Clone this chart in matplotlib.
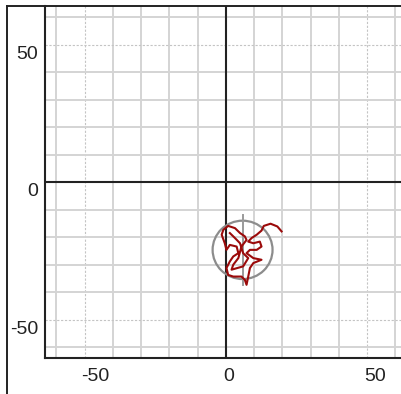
import numpy as np
import matplotlib
matplotlib.use("Agg")
import matplotlib.pyplot as plt
from matplotlib.patches import Ellipse
from matplotlib.lines import Line2D
from matplotlib.transforms import offset_copy, blended_transform_factory

plt.rcParams['font.family'] = ['Liberation Sans', 'DejaVu Sans']

# ---- data ----
path_x = [19.7, 18.2, 15.8, 13.4, 12.6, 10.9, 9.1, 7.9, 9.7, 12.0, 12.6, 10.9, 8.5, 7.3,
          9.7, 12.6, 9.7, 8.5, 7.9, 7.3, 6.7, 5.5, 2.6, 0.8, 0.2, 1.4, 2.6, 4.4, 3.8,
          1.4, 0.2, -0.4, -1.5, -0.9, 0.8, 3.2, 5.0, 6.7, 7.3, 5.5, 4.4, 2.6, 2.0,
          6.1, 7.9, 6.1, 5.0, 3.2, 1.4]
path_y = [-17.9, -16.1, -15.1, -15.9, -17.6, -19.1, -20.3, -21.6, -22.2, -21.6, -23.4, -24.6,
          -24.6, -25.8, -27.6, -28.2, -29.4, -31.2, -34.3, -37.3, -35.5, -34.3, -34.3, -33.7,
          -31.2, -28.8, -27.0, -25.8, -23.4, -22.8, -24.6, -22.2, -19.1, -17.3, -15.9, -16.7,
          -18.5, -19.7, -21.0, -23.4, -27.6, -30.0, -31.8, -30.6, -27.6, -25.8, -22.2, -20.3,
          -18.5]
circle_center = (5.9, -24.6)
circle_radius = 10.6
marker_x = 6.1
marker_y = [-12.0, -37.5]
x_tick_labels = [-50, 0, 50]
y_tick_labels = [50, 0, -50]
x_range = (-64, 62.3)
y_range = (-64, 64)

W, H = 402, 394
fig = plt.figure(figsize=(W / 100, H / 100), dpi=100)

# outer frame (left and top)
fig.add_artist(Line2D([7 / W, 7 / W], [0, 1 - 6 / H], transform=fig.transFigure,
                      color='#222222', lw=1.4))
fig.add_artist(Line2D([7 / W, 1], [1 - 6 / H, 1 - 6 / H], transform=fig.transFigure,
                      color='#222222', lw=1.4))

ax = fig.add_axes([45 / W, (H - 358.3) / H, (W - 45) / W, 352.3 / H])
ax.set_xlim(*x_range)
ax.set_ylim(*y_range)

ax.set_xticks([-50, 50])
ax.set_yticks([-50, 50])
ax.set_xticks(np.arange(-60, 61, 10), minor=True)
ax.set_yticks(np.arange(-60, 61, 10), minor=True)
ax.tick_params(which='both', length=0, labelbottom=False, labelleft=False)
ax.grid(which='minor', color='#d4d4d4', lw=1.4, ls='-')
ax.grid(which='major', color='#c4c4c4', lw=0.8, ls=(0, (2, 1.5)))
ax.set_axisbelow(True)

for s in ['top', 'right']:
    ax.spines[s].set_visible(False)
for s in ['left', 'bottom']:
    ax.spines[s].set_color('#222222')
    ax.spines[s].set_linewidth(1.5)

ax.axhline(0, color='#222222', lw=1.5, zorder=2)
ax.axvline(0, color='#222222', lw=1.5, zorder=2)

# labels
tx = blended_transform_factory(ax.transData, ax.transAxes)
for v in x_tick_labels:
    ax.text(v, 0, str(v), transform=offset_copy(tx, fig=fig, x=-3, y=-18, units='dots'),
            ha='left', va='center', fontsize=14, color='#222222', clip_on=False)
ty = blended_transform_factory(ax.transAxes, ax.transData)
for v in y_tick_labels:
    ax.text(0, v, str(v), transform=offset_copy(ty, fig=fig, x=-7, y=-9.5, units='dots'),
            ha='right', va='center', fontsize=14, color='#222222', clip_on=False)

# circle and marker
ax.add_patch(Ellipse(circle_center, 2 * circle_radius, 2 * circle_radius, fill=False,
                     edgecolor='#8c8c8c', lw=1.6, zorder=3))
ax.plot([marker_x, marker_x], marker_y, color='#9a9a9a', lw=1.4, zorder=3)

ax.plot(path_x, path_y, color='#9b0a0a', lw=1.5, zorder=4, solid_joinstyle='round')

fig.savefig('out.png', dpi=100)
